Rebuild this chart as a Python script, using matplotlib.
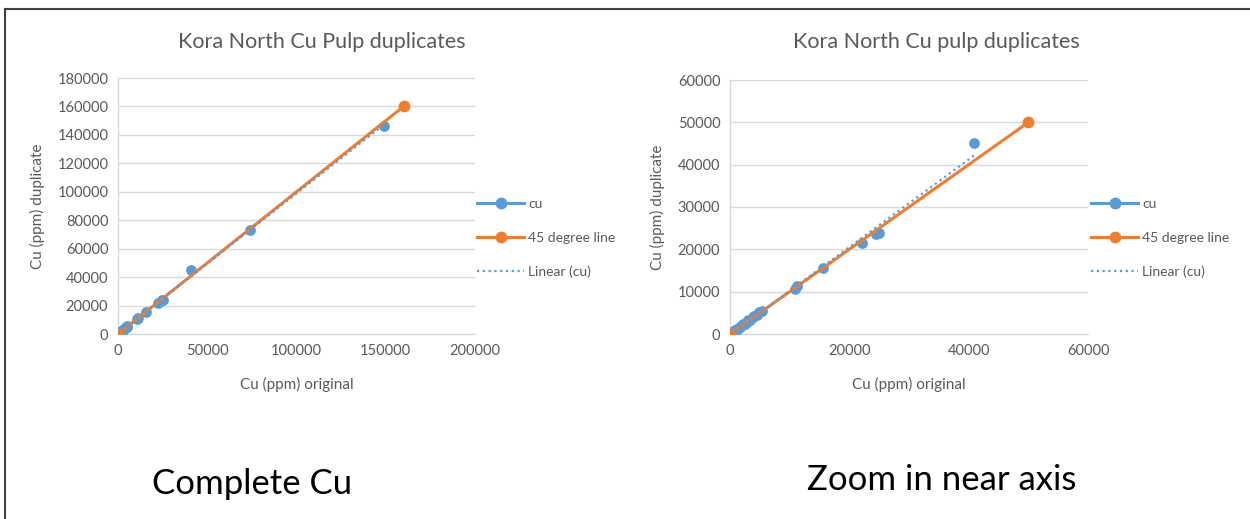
import numpy as np
import matplotlib
matplotlib.use("Agg")
import matplotlib.pyplot as plt
from matplotlib.lines import Line2D

# Datos de duplicados de pulpa Cu (ppm)
cu_original = [0, 150, 300, 500, 700, 900, 1100, 1300, 1600, 1900, 2200, 2500, 2800,
               3100, 3400, 3800, 4100, 4500, 4900, 5300, 10900, 11300, 15600, 22200,
               24500, 25000, 40900, 74000, 149000]
cu_duplicate = [0, 200, 350, 450, 800, 850, 1200, 1250, 1700, 1800, 2300, 2400, 2900,
                3300, 3300, 3900, 4300, 4600, 5100, 5500, 10700, 11300, 15500, 21600,
                23700, 23900, 45000, 73000, 146500]
linea45 = [0, 160000]          # linea de 45 grados, grafico completo
linea45_zoom = [0, 50000]      # linea de 45 grados, grafico ampliado

titulos = ["Kora North Cu Pulp duplicates", "Kora North Cu pulp duplicates"]
xticks_l = [0, 50000, 100000, 150000, 200000]
yticks_l = list(range(0, 180001, 20000))
xticks_r = [0, 20000, 40000, 60000]
yticks_r = list(range(0, 60001, 10000))

azul = '#5B9BD5'
naranja = '#ED7D31'
gris = '#595959'
rejilla = '#D9D9D9'

plt.rcParams['font.family'] = ['Lato', 'DejaVu Sans']

fig = plt.figure(figsize=(12.5, 5.19), dpi=100)

# marco de la diapositiva
fig.add_artist(Line2D([5/1250, 1], [1 - 9/519, 1 - 9/519], color='#404040', lw=1.5))
fig.add_artist(Line2D([5/1250, 5/1250], [0, 1 - 9/519], color='#404040', lw=1.5))

x_all = np.array(cu_original)
y_all = np.array(cu_duplicate)
sub = x_all <= 50000

paneles = [
    ([118/1250, 1 - 334/519, 357/1250, 256/519], x_all, y_all, linea45, xticks_l, yticks_l, titulos[0], 477/1250, 322/1250),
    ([730/1250, 1 - 334/519, 358/1250, 254/519], x_all[sub], y_all[sub], linea45_zoom, xticks_r, yticks_r, titulos[1], 1091/1250, 936/1250),
]

for rect, xs, ys, l45, xt, yt, tit, leg_x, tit_x in paneles:
    ax = fig.add_axes(rect)
    ax.scatter(xs, ys, s=60, color=azul, zorder=3, linewidths=0)
    ax.plot(l45, l45, color=naranja, lw=2.2, marker='o', ms=7.5, zorder=4)
    # tendencia lineal
    b, a = np.polyfit(xs, ys, 1)
    xt_line = np.array([xs.min(), xs.max()])
    ax.plot(xt_line, a + b * xt_line, color=azul, lw=1.6, ls=(0, (1, 1.6)), zorder=5)

    ax.set_xlim(xt[0], xt[-1])
    ax.set_ylim(yt[0], yt[-1])
    ax.set_xticks(xt)
    ax.set_yticks(yt)
    ax.set_xticklabels([str(v) for v in xt])
    ax.set_yticklabels([str(v) for v in yt])
    ax.tick_params(length=0, colors=gris, labelsize=10.5, pad=7)
    ax.grid(axis='y', color=rejilla, lw=1)
    ax.set_axisbelow(True)
    for s in ['top', 'right']:
        ax.spines[s].set_visible(False)
    for s in ['left', 'bottom']:
        ax.spines[s].set_color(rejilla)
        ax.spines[s].set_linewidth(1)
    ax.set_xlabel("Cu (ppm) original", color=gris, fontsize=11, labelpad=14)
    ax.set_ylabel("Cu (ppm) duplicate", color=gris, fontsize=11, labelpad=9)
    fig.text(tit_x, 1 - 42/519, tit, ha='center', va='center', color=gris, fontsize=15.5)

    handles = [
        Line2D([], [], color=azul, lw=2.2, marker='o', ms=7.5),
        Line2D([], [], color=naranja, lw=2.2, marker='o', ms=7.5),
        Line2D([], [], color=azul, lw=1.6, ls=(0, (1, 1.6))),
    ]
    fig.legend(handles, ["cu", "45 degree line", "Linear (cu)"], loc='center left',
               bbox_to_anchor=(leg_x, 1 - 238/519), frameon=False, fontsize=10,
               labelcolor=gris, handlelength=3.4, labelspacing=1.55, handletextpad=0.3,
               borderpad=0, borderaxespad=0)

fig.text(252/1250, 1 - 484/519, "Complete Cu", ha='center', va='center', fontsize=25,
         color='black')
fig.text(942/1250, 1 - 480/519, "Zoom in near axis", ha='center', va='center', fontsize=25,
         color='black')

fig.savefig('out.png', dpi=100)
